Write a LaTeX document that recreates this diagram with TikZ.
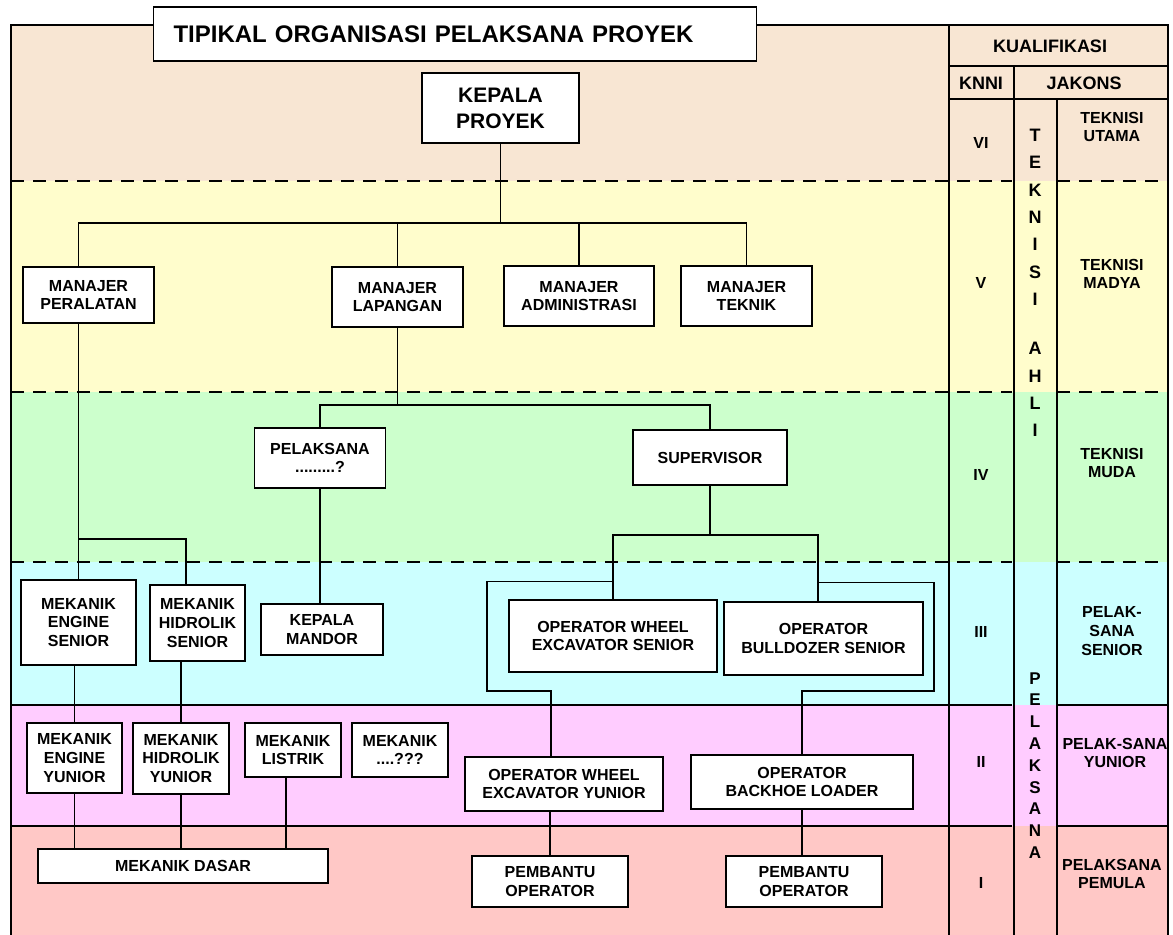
\documentclass[tikz,border=0pt]{standalone}
\usepackage{fontspec}
\setmainfont{Liberation Sans}
\definecolor{peach}{HTML}{F8E6D3}
\definecolor{lemon}{HTML}{FFFDCC}
\definecolor{mint}{HTML}{CCFFCC}
\definecolor{sky}{HTML}{CCFFFF}
\definecolor{lilac}{HTML}{FFCCFF}
\definecolor{salmon}{HTML}{FFC8C6}
\begin{document}
\begin{tikzpicture}[x=0.5pt,y=-0.5pt]
\tikzstyle{every node}+=[inner sep=0pt]
\tikzstyle{box}=[draw=black,line width=0.6pt,fill=white,align=center,font=\fontsize{8}{9.3}\selectfont\bfseries]
\tikzstyle{lbl}=[align=center,font=\fontsize{8}{9.3}\selectfont\bfseries]
\tikzstyle{hdr}=[font=\fontsize{9}{11}\selectfont\bfseries]
\tikzstyle{con}=[line width=0.6pt]
\tikzstyle{sep}=[line width=1.2pt,dash pattern=on 6.5pt off 4.5pt]
\tikzstyle{rule}=[line width=1.1pt]
\useasboundingbox (0,0) rectangle (1173,935);
\fill[peach] (11,25) rectangle (1168,181);
\fill[lemon] (11,181) rectangle (1168,392);
\fill[mint] (11,392) rectangle (1168,562);
\fill[sky] (11,562) rectangle (1168,705);
\fill[lilac] (11,705) rectangle (1168,826);
\fill[salmon] (11,826) rectangle (1168,935);
\draw[sep] (11,181) -- (1012,181);
\draw[sep] (1057,181) -- (1168,181);
\draw[sep] (11,392) -- (1012,392);
\draw[sep] (1057,392) -- (1168,392);
\draw[sep] (11,562) -- (1012,562);
\draw[sep] (1057,562) -- (1168,562);
\draw[rule] (11,705) -- (1012,705);
\draw[rule] (1057,705) -- (1168,705);
\draw[rule] (11,826) -- (1012,826);
\draw[rule] (1057,826) -- (1168,826);
\draw[rule] (949,25) -- (949,935);
\draw[rule] (1014,66) -- (1014,935);
\draw[rule] (1057,99) -- (1057,935);
\draw[rule] (949,66) -- (1168,66);
\draw[rule] (949,99) -- (1168,99);
\draw[rule] (11,935) -- (11,25) -- (1168,25) -- (1168,935);
\node[box,minimum width=301.5pt,minimum height=27pt,text width=281.5pt,align=left,font=\fontsize{12}{14}\selectfont\bfseries] (title) at (455,34) {TIPIKAL ORGANISASI PELAKSANA PROYEK};
\node[box,minimum width=78.5pt,minimum height=35pt,font=\fontsize{10.5}{13}\selectfont\bfseries] (kp) at (500.5,108) {KEPALA\\PROYEK};
\node[box,minimum width=65.5pt,minimum height=28pt] (mp) at (88.5,295) {MANAJER\\PERALATAN};
\node[box,minimum width=65.5pt,minimum height=30pt] (mlap) at (397.5,297) {MANAJER\\LAPANGAN};
\node[box,minimum width=75pt,minimum height=30pt] (madm) at (579,296) {MANAJER\\ADMINISTRASI};
\node[box,minimum width=65.5pt,minimum height=30pt] (mtek) at (746.5,296) {MANAJER\\TEKNIK};
\node[box,minimum width=65.5pt,minimum height=30pt] (pel) at (320,458) {PELAKSANA\\.........?};
\node[box,minimum width=77pt,minimum height=27.5pt] (sup) at (710,457.5) {SUPERVISOR};
\node[box,minimum width=57.5pt,minimum height=42.5pt] (mes) at (78.5,622.5) {MEKANIK\\ENGINE\\SENIOR};
\node[box,minimum width=47.5pt,minimum height=38pt] (mhs) at (197.5,623) {MEKANIK\\HIDROLIK\\SENIOR};
\node[box,minimum width=61pt,minimum height=25.5pt] (km) at (322,629.5) {KEPALA\\MANDOR};
\node[box,minimum width=104pt,minimum height=36pt] (owes) at (613,636) {OPERATOR WHEEL\\EXCAVATOR SENIOR};
\node[box,minimum width=99.5pt,minimum height=36.5pt] (obs) at (823.5,638.5) {OPERATOR\\BULLDOZER SENIOR};
\node[box,minimum width=47.5pt,minimum height=35pt] (mey) at (74.5,758) {MEKANIK\\ENGINE\\YUNIOR};
\node[box,minimum width=48pt,minimum height=35.5pt] (mhy) at (181,758.5) {MEKANIK\\HIDROLIK\\YUNIOR};
\node[box,minimum width=48pt,minimum height=27pt] (mlis) at (293,750) {MEKANIK\\LISTRIK};
\node[box,minimum width=48pt,minimum height=27pt] (mlain) at (400,750) {MEKANIK\\....???};
\node[box,minimum width=145pt,minimum height=17pt] (md) at (183,866) {MEKANIK DASAR};
\node[box,minimum width=99pt,minimum height=27pt] (oewy) at (564,784) {OPERATOR WHEEL\\EXCAVATOR YUNIOR};
\node[box,minimum width=111pt,minimum height=27pt] (obl) at (802,782) {OPERATOR\\BACKHOE LOADER};
\node[box,minimum width=78pt,minimum height=25.5pt] (po1) at (550,881.5) {PEMBANTU\\OPERATOR};
\node[box,minimum width=78pt,minimum height=25.5pt] (po2) at (804,881.5) {PEMBANTU\\OPERATOR};
\coordinate (mbus) at (500.5,223);
\coordinate (hbr) at (78.5,539);
\coordinate (lbus) at (397.5,405);
\coordinate (sbus) at (710,535);
\coordinate (lhook) at (487,691);
\coordinate (rhook) at (934,691);
\draw[con] (kp.south) -- (mbus);
\draw[con] (mbus) -| ([xshift=-5pt]mp.north);
\draw[con] (mbus) -| (mlap.north);
\draw[con] (mbus) -| (madm.north);
\draw[con] (mbus) -| (mtek.north);
\draw[con] (mes.north) -- (mes.north |- mp.south);
\draw[con] (hbr) -| ([xshift=-5.75pt]mhs.north);
\draw[con] (mlap.south) -- (lbus);
\draw[con] (lbus) -| (pel.north);
\draw[con] (lbus) -| (sup.north);
\draw[con] (pel.south) -- (pel.south |- km.north);
\draw[con] (sup.south) -- (sbus);
\draw[con] (sbus) -| (owes.north);
\draw[con] (sbus) -| ([xshift=-2.75pt]obs.north);
\draw[con] ([yshift=9pt]owes.north) -| (lhook) -| ([xshift=-6.5pt]oewy.north);
\draw[con] ([xshift=-2.75pt,yshift=9.5pt]obs.north) -| (rhook) -| (obl.north);
\draw[con] (po1.north) -- (po1.north |- oewy.south);
\draw[con] (obl.south) -- (obl.south |- po2.north);
\draw[con] (mey.north) -- (mey.north |- mes.south);
\draw[con] (mhy.north) -- (mhy.north |- mhs.south);
\draw[con] (mey.south) -- (mey.south |- md.north);
\draw[con] (mhy.south) -- (mhy.south |- md.north);
\draw[con] ([xshift=-3.5pt]mlis.south) -- ([xshift=-3.5pt]mlis.south |- md.north);
\node[hdr] (kual) at (1050,46) {KUALIFIKASI};
\node[hdr] (knni) at (981,83) {KNNI};
\node[hdr] (jakons) at (1084,83) {JAKONS};
\node[lbl] (k6) at (981,143) {VI};
\node[lbl] (k5) at (981,283) {V};
\node[lbl] (k4) at (981,475) {IV};
\node[lbl] (k3) at (981,632) {III};
\node[lbl] (k2) at (981,762) {II};
\node[lbl] (k1) at (981,883) {I};
\node[align=center,anchor=north,font=\fontsize{9}{13.7}\selectfont\bfseries] (ahli) at (1035,128.5) {T\\E\\K\\N\\I\\S\\I\\[10.8pt]A\\H\\L\\I};
\node[align=center,anchor=north,font=\fontsize{8.5}{10.9}\selectfont\bfseries] (pelaksana) at (1035,672) {P\\E\\L\\A\\K\\S\\A\\N\\A};
\node[lbl] (j6) at (1112,127) {TEKNISI\\UTAMA};
\node[lbl] (j5) at (1112,274) {TEKNISI\\MADYA};
\node[lbl] (j4) at (1112,463) {TEKNISI\\MUDA};
\node[lbl] (j3) at (1112,631) {PELAK-\\SANA\\SENIOR};
\node[lbl] (j2) at (1115,753) {PELAK-SANA\\YUNIOR};
\node[lbl] (j1) at (1112,874) {PELAKSANA\\PEMULA};
\end{tikzpicture}
\end{document}
